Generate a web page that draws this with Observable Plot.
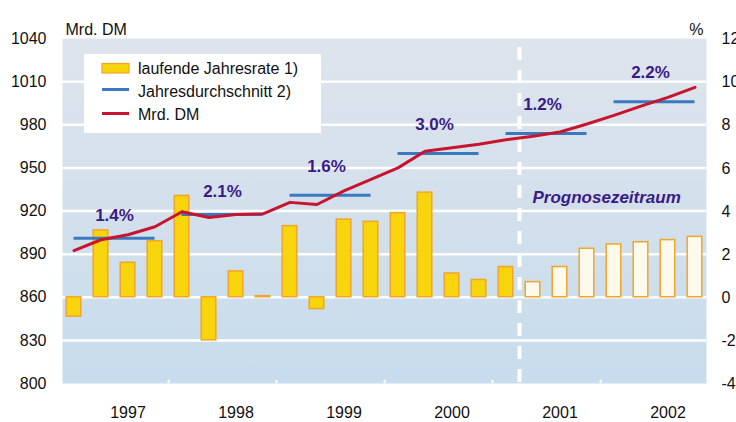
<!DOCTYPE html>
<html>
<head>
<meta charset="utf-8">
<script src="https://cdn.jsdelivr.net/npm/d3@7"></script>
<script src="https://cdn.jsdelivr.net/npm/@observablehq/plot@0.6"></script>
<style>
  html, body { margin: 0; padding: 0; background: #ffffff; overflow: hidden; }
  #chart svg { overflow: hidden; display: block; }
</style>
</head>
<body>
<div id="chart"></div>
<script>
// ---- data ----
const years = [1997, 1998, 1999, 2000, 2001, 2002];
// laufende Jahresrate (%), quarterly
const rate = [-0.9, 3.1, 1.6, 2.6, 4.7, -2.0, 1.2, 0.05, 3.3, -0.55, 3.6, 3.5,
              3.9, 4.85, 1.1, 0.8, 1.4, 0.7, 1.4, 2.25, 2.45, 2.55, 2.65, 2.8];
// Mrd. DM, quarterly
const level = [892.5, 900, 903.5, 909, 919.5, 915.5, 917.5, 918, 926, 924.5, 934, 942,
               950, 961.5, 964, 966.5, 969.5, 972, 975, 980.5, 986.5, 993, 999, 1006];
// Jahresdurchschnitt (Mrd. DM)
const average = [901, 917.5, 931, 960, 974, 996];
const growth = ["1.4%", "2.1%", "1.6%", "3.0%", "1.2%", "2.2%"];
const forecastStart = 17; // first quarter of Prognosezeitraum
const dmTicks = [800, 830, 860, 890, 920, 950, 980, 1010, 1040];
const pctTicks = [-4, -2, 0, 2, 4, 6, 8, 10, 12];
const legendLabels = ["laufende Jahresrate 1)", "Jahresdurchschnitt 2)", "Mrd. DM"];

// ---- derived tables ----
const base = 860;             // 0 % on the DM axis
const perPct = 15;            // DM units per percentage point
const quarters = rate.map((r, i) => ({
  i, r, level: level[i], forecast: i >= forecastStart,
  y1: base, y2: base + r * perPct
}));
const yearRows = years.map((yr, k) => ({
  k, yr, avg: average[k], label: growth[k],
  x1: 4 * k, x2: 4 * k + 3, xc: 4 * k + 1.5, xl: 4 * k + 2
}));
const boundaries = years.slice(1).map((_, k) => 4 * (k + 1) - 0.5);

const FONT = "Liberation Sans, Arial, Helvetica, sans-serif";
const PURPLE = "#3b1a86";
const YELLOW = "#f7d40b";
const ORANGE = "#f2a529";
const PALE = "#fdfaeb";
const RED = "#c8142f";
const BLUE = "#3b79bf";

const plot = Plot.plot({
  width: 736,
  height: 422,
  marginLeft: 60,
  marginRight: 28,
  marginTop: 38,
  marginBottom: 39,
  style: { fontFamily: FONT, fontSize: "16px", color: "#111", background: "white" },
  x: { type: "linear", domain: [-0.5, 23.5], axis: null },
  y: { domain: [800, 1040], axis: null },
  marks: [
    Plot.frame({ fill: "url(#bgGrad)", stroke: null, insetLeft: 2, insetRight: 2 }),
    Plot.gridY(dmTicks.slice(1, -1), { stroke: "white", strokeOpacity: 1, strokeWidth: 2.5, insetLeft: 2, insetRight: 2 }),
    Plot.rectY(quarters, {
      x1: d => d.i - 0.27, x2: d => d.i + 0.27, y1: "y1", y2: "y2",
      fill: d => d.forecast ? PALE : YELLOW, stroke: ORANGE, strokeWidth: 1.5
    }),
    Plot.ruleX(boundaries, { x: d => d, y1: 800, y2: 802.2, stroke: "white", strokeWidth: 2 }),
    Plot.ruleX([forecastStart - 0.5], { stroke: "white", strokeWidth: 4, strokeDasharray: "13,10", strokeDashoffset: -9 }),
    Plot.ruleY(yearRows, { x1: "x1", x2: "x2", y: "avg", stroke: BLUE, strokeWidth: 3 }),
    Plot.line(quarters, { x: "i", y: "level", stroke: RED, strokeWidth: 3, strokeLinejoin: "round" }),
    Plot.text(yearRows.filter(d => d.k < 2), { x: "xc", y: "avg", text: "label", dy: -23, dx: 0,
      fill: PURPLE, fontWeight: "bold", fontSize: 17 }),
    Plot.text(yearRows.filter(d => d.k >= 2), { x: "xc", y: "avg", text: "label", dy: -29, dx: -4,
      fill: PURPLE, fontWeight: "bold", fontSize: 17 }),
    Plot.text(["Prognosezeitraum"], { x: forecastStart - 0.5, frameAnchor: "top", dx: 13, dy: 152,
      textAnchor: "start", fill: PURPLE, fontWeight: "bold", fontStyle: "italic", fontSize: 17 }),
    Plot.axisY(dmTicks, { anchor: "left", tickSize: 0, tickPadding: 14, label: null, fontSize: 16,
      tickFormat: d => String(d) }),
    Plot.axisY(dmTicks, { anchor: "right", tickSize: 0, tickPadding: 13, label: null, fontSize: 16, dy: 0.5,
      tickFormat: d => String(pctTicks[dmTicks.indexOf(d)]) }),
    Plot.axisX(yearRows.map(d => d.xl), { anchor: "bottom", tickSize: 0, tickPadding: 23, label: null, fontSize: 16,
      tickFormat: d => String(years[(d - 2) / 4]) }),
    Plot.text(["Mrd. DM"], { frameAnchor: "top-left", dx: 5, dy: -15, textAnchor: "start", fontSize: 16, fill: "#111" }),
    Plot.text(["%"], { frameAnchor: "top-right", dx: -5, dy: -15, textAnchor: "end", fontSize: 16, fill: "#111" })
  ]
});

// gradient for plot background
const svg = d3.select(plot);
const defs = svg.insert("defs", ":first-child");
const grad = defs.append("linearGradient").attr("id", "bgGrad")
  .attr("x1", 0).attr("y1", 0).attr("x2", 0).attr("y2", 1);
grad.append("stop").attr("offset", "0%").attr("stop-color", "#dee4ec");
grad.append("stop").attr("offset", "100%").attr("stop-color", "#c7dcec");

// legend box inside the plot area
const lg = svg.append("g").attr("font-family", FONT).attr("font-size", 16).attr("text-anchor", "start");
lg.append("rect").attr("x", 84).attr("y", 54).attr("width", 237).attr("height", 79).attr("fill", "white");
const rows = [68, 91, 114];
lg.append("rect").attr("x", 102).attr("y", 63.5).attr("width", 27).attr("height", 9.5)
  .attr("fill", YELLOW).attr("stroke", ORANGE).attr("stroke-width", 1.2);
lg.append("line").attr("x1", 102).attr("x2", 129).attr("y1", 89.5).attr("y2", 89.5)
  .attr("stroke", BLUE).attr("stroke-width", 3);
lg.append("line").attr("x1", 102).attr("x2", 129).attr("y1", 113.5).attr("y2", 113.5)
  .attr("stroke", RED).attr("stroke-width", 3);
legendLabels.forEach((t, k) => {
  lg.append("text").attr("x", 138).attr("y", rows[k]).attr("dy", "0.35em")
    .attr("text-anchor", "start").attr("fill", "#111").text(t);
});

document.getElementById("chart").appendChild(plot);
</script>
</body>
</html>
